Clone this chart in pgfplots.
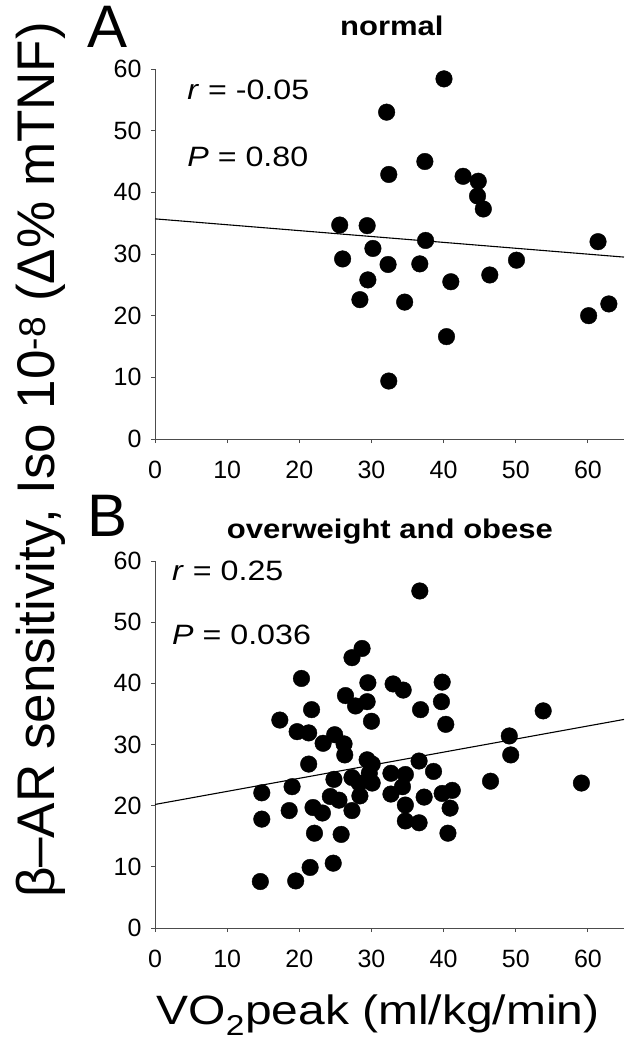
\documentclass[border=0pt]{standalone}
\usepackage{graphicx}
\usepackage{pgfplots}
\pgfplotsset{compat=1.18}
\usepackage{fontspec}
\setmainfont{Liberation Sans}
\newcommand{\hs}[1]{\scalebox{1.15}[1]{#1}}

\pgfplotstableread{
x y
40.05 58.4
32.1 53.0
32.4 42.9
37.4 45.0
42.7 42.6
44.8 41.8
44.7 39.4
45.5 37.3
25.6 34.7
29.4 34.6
37.5 32.2
30.2 30.9
26.0 29.2
32.3 28.3
36.7 28.4
29.5 25.8
41.0 25.5
46.4 26.6
50.1 29.0
28.4 22.6
34.6 22.2
40.4 16.6
32.4 9.4
61.4 32.0
60.1 20.0
62.9 21.9
}\normaldata

\pgfplotstableread{
x y
36.7 55.1
28.7 45.7
27.3 44.2
20.3 40.8
29.5 40.1
33.0 39.9
34.4 38.9
39.8 40.2
26.4 38.0
29.4 37.0
27.8 36.3
39.7 37.0
21.7 35.7
36.8 35.7
30.0 33.8
17.3 34.0
40.3 33.3
53.8 35.5
19.7 32.1
21.3 31.9
24.9 31.6
23.3 30.2
26.2 30.1
26.3 28.3
49.1 31.4
49.3 28.3
21.3 26.8
29.4 27.5
30.1 26.8
36.6 27.3
32.7 25.3
34.7 25.1
38.6 25.6
24.8 24.3
27.3 24.6
29.7 25.3
28.3 23.7
30.1 23.7
19.0 23.1
34.3 23.1
46.5 24.0
59.1 23.7
14.8 22.1
32.7 21.9
28.4 21.6
37.3 21.4
24.3 21.5
25.5 20.9
39.8 22.0
41.2 22.5
34.7 20.1
21.9 19.7
18.6 19.2
23.2 18.8
27.3 19.2
40.9 19.6
14.8 17.8
34.7 17.5
36.6 17.2
22.1 15.5
25.8 15.3
40.6 15.5
21.5 9.9
24.7 10.6
14.6 7.6
19.5 7.7
}\obesedata

\pgfplotsset{
  panel/.style={
    scale only axis,
    width=469bp,
    xmin=0, xmax=65, ymin=0, ymax=60,
    enlargelimits=false,
    clip=false,
    axis lines*=left,
    axis line style={-, draw=black!70, line width=1bp},
    xtick={0,10,...,60}, ytick={0,10,...,60},
    xticklabels={0,10,20,30,40,50,60},
    yticklabels={0,10,20,30,40,50,60},
    tick align=outside,
    major tick length=4bp,
    tick style={draw=black!70, line width=1bp},
    tick label style={font=\fontsize{25bp}{27bp}\selectfont},
    yticklabel style={xshift=-6bp},
    xticklabel style={yshift=-15bp},
  },
  dots/.style={only marks, mark=*, mark size=8.3bp, mark options={fill=black, draw=black}},
  trend/.style={black, line width=1.1bp, no marks},
}

\begin{document}
\begin{tikzpicture}
\path[use as bounding box] (0,0) rectangle (627bp,-1050bp);

\begin{axis}[panel, height=370bp, at={(155bp,-439bp)}, anchor=south west]
  \addplot[trend] coordinates {(0,35.7) (65,29.5)};
  \addplot[dots] table[x=x,y=y] {\normaldata};
  \node[anchor=west, font=\fontsize{28bp}{30bp}\selectfont] at (axis cs:4.0,56.6) {\hs{\textit{r} = -0.05}};
  \node[anchor=west, font=\fontsize{28bp}{30bp}\selectfont] at (axis cs:4.0,45.7) {\hs{\textit{P} = 0.80}};
  \node[anchor=base, font=\fontsize{27bp}{29bp}\selectfont\bfseries] at (rel axis cs:0.505,1) [yshift=34bp] {\hs{normal}};
  \node[font=\fontsize{60bp}{62bp}\selectfont, inner sep=0pt] at (rel axis cs:0,1) [xshift=-47bp, yshift=42bp] {A};
\end{axis}

\begin{axis}[panel, height=367bp, at={(155bp,-928bp)}, anchor=south west]
  \addplot[trend] coordinates {(0,20.2) (65,34.1)};
  \addplot[dots] table[x=x,y=y] {\obesedata};
  \node[anchor=west, font=\fontsize{28bp}{30bp}\selectfont] at (axis cs:1.9,58.4) {\hs{\textit{r} = 0.25}};
  \node[anchor=west, font=\fontsize{28bp}{30bp}\selectfont] at (axis cs:1.9,47.9) {\hs{\textit{P} = 0.036}};
  \node[anchor=base, font=\fontsize{27bp}{29bp}\selectfont\bfseries] at (rel axis cs:0.501,1) [yshift=23bp] {\hs{overweight and obese}};
  \node[font=\fontsize{60bp}{62bp}\selectfont, inner sep=0pt] at (rel axis cs:0,1) [xshift=-47bp, yshift=45bp] {B};
\end{axis}

\node[rotate=90, font=\fontsize{53bp}{55bp}\selectfont] at (41bp,-460bp) {β–AR sensitivity, Iso 10\textsuperscript{-8} (Δ\% mTNF)};
\node[font=\fontsize{41bp}{43bp}\selectfont] at (378bp,-1015bp) {\scalebox{1.17}[1]{VO\textsubscript{2}peak (ml/kg/min)}};
\end{tikzpicture}
\end{document}
